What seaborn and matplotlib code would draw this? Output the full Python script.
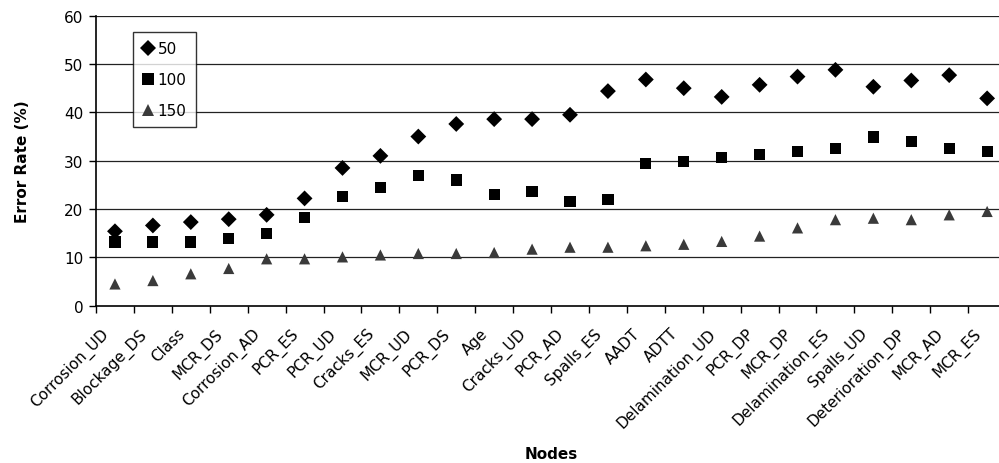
import numpy as np
import pandas as pd
import seaborn as sns
import matplotlib.pyplot as plt
import matplotlib.transforms as mtransforms

nodes = ['Corrosion_UD', 'Blockage_DS', 'Class', 'MCR_DS', 'Corrosion_AD', 'PCR_ES',
         'PCR_UD', 'Cracks_ES', 'MCR_UD', 'PCR_DS', 'Age', 'Cracks_UD', 'PCR_AD',
         'Spalls_ES', 'AADT', 'ADTT', 'Delamination_UD', 'PCR_DP', 'MCR_DP',
         'Delamination_ES', 'Spalls_UD', 'Deterioration_DP', 'MCR_AD', 'MCR_ES']

err_50 = [15.4, 16.6, 17.3, 17.9, 18.8, 22.2, 28.5, 31.0, 35.0, 37.6, 38.6, 38.6,
          39.5, 44.4, 46.8, 45.0, 43.2, 45.7, 47.4, 48.8, 45.3, 46.6, 47.7, 42.9]
err_100 = [13.2, 13.2, 13.2, 13.9, 15.0, 18.3, 22.6, 24.4, 27.0, 26.0, 23.0, 23.6,
           21.6, 21.9, 29.5, 29.9, 30.6, 31.3, 31.9, 32.5, 34.9, 33.9, 32.5, 31.9]
err_150 = [4.5, 5.2, 6.6, 7.7, 9.7, 9.7, 10.1, 10.5, 10.8, 10.8, 11.0, 11.7,
           12.1, 12.1, 12.4, 12.7, 13.3, 14.4, 16.1, 17.8, 18.1, 17.8, 18.8, 19.5]

series = ['50', '100', '150']

df = pd.DataFrame({
    'pos': list(range(len(nodes))) * 3,
    'rate': err_50 + err_100 + err_150,
    'series': np.repeat(series, len(nodes)),
})

sns.set_style('white')
plt.rcParams['font.family'] = ['DejaVu Sans']
plt.rcParams['text.color'] = 'black'
plt.rcParams['xtick.color'] = 'black'
plt.rcParams['ytick.color'] = 'black'
plt.rcParams['axes.labelcolor'] = 'black'

fig = plt.figure(figsize=(9.99, 4.64), dpi=100)
ax = fig.add_axes([0.0961, 0.339, 0.911, 0.625])

sns.scatterplot(data=df, x='pos', y='rate', hue='series', style='series',
                hue_order=series, style_order=series,
                palette={'50': 'black', '100': 'black', '150': '#3a3a3a'},
                markers={'50': 'D', '100': 's', '150': '^'},
                s=65, linewidth=0, ax=ax, zorder=3)

ax.set_xlim(-0.5, len(nodes) - 0.5)
ax.set_ylim(0, 60)
ax.set_yticks(range(0, 61, 10))
for v in range(10, 61, 10):
    ax.axhline(v, color='#222222', lw=0.9, zorder=1)

ax.set_xticks(range(len(nodes)))
ax.set_xticklabels(nodes, rotation=45, ha='right', rotation_mode='anchor', fontsize=11)
ax.set_xticks(np.arange(-0.5, len(nodes), 1), minor=True)
ax.tick_params(axis='x', which='major', length=0, pad=14)
ax.tick_params(axis='x', which='minor', length=5, width=1, color='black', bottom=True)
ax.tick_params(axis='y', length=5, width=1, color='black', left=True, labelsize=11, pad=4)
offset = mtransforms.ScaledTranslation(-14 / 100, 0, fig.dpi_scale_trans)
for lab in ax.get_xticklabels():
    lab.set_transform(lab.get_transform() + offset)

for side in ['top', 'right']:
    ax.spines[side].set_visible(False)
for side in ['left', 'bottom']:
    ax.spines[side].set_color('black')
    ax.spines[side].set_linewidth(1.2)

ax.set_xlabel('Nodes', fontsize=11, fontweight='bold')
ax.set_ylabel('Error Rate (%)', fontsize=11, fontweight='bold')
ax.xaxis.set_label_coords(0.5, -0.484)
ax.yaxis.set_label_coords(-0.0725, 0.5)

leg = ax.legend(loc='upper left', bbox_to_anchor=(0.0407, 0.944), borderaxespad=0,
                fontsize=11, frameon=True, fancybox=False, edgecolor='black',
                borderpad=0.6, labelspacing=1.05, handletextpad=0.2, handlelength=0.8)
leg.get_frame().set_linewidth(1.0)

fig.savefig('out.png', dpi=100)
